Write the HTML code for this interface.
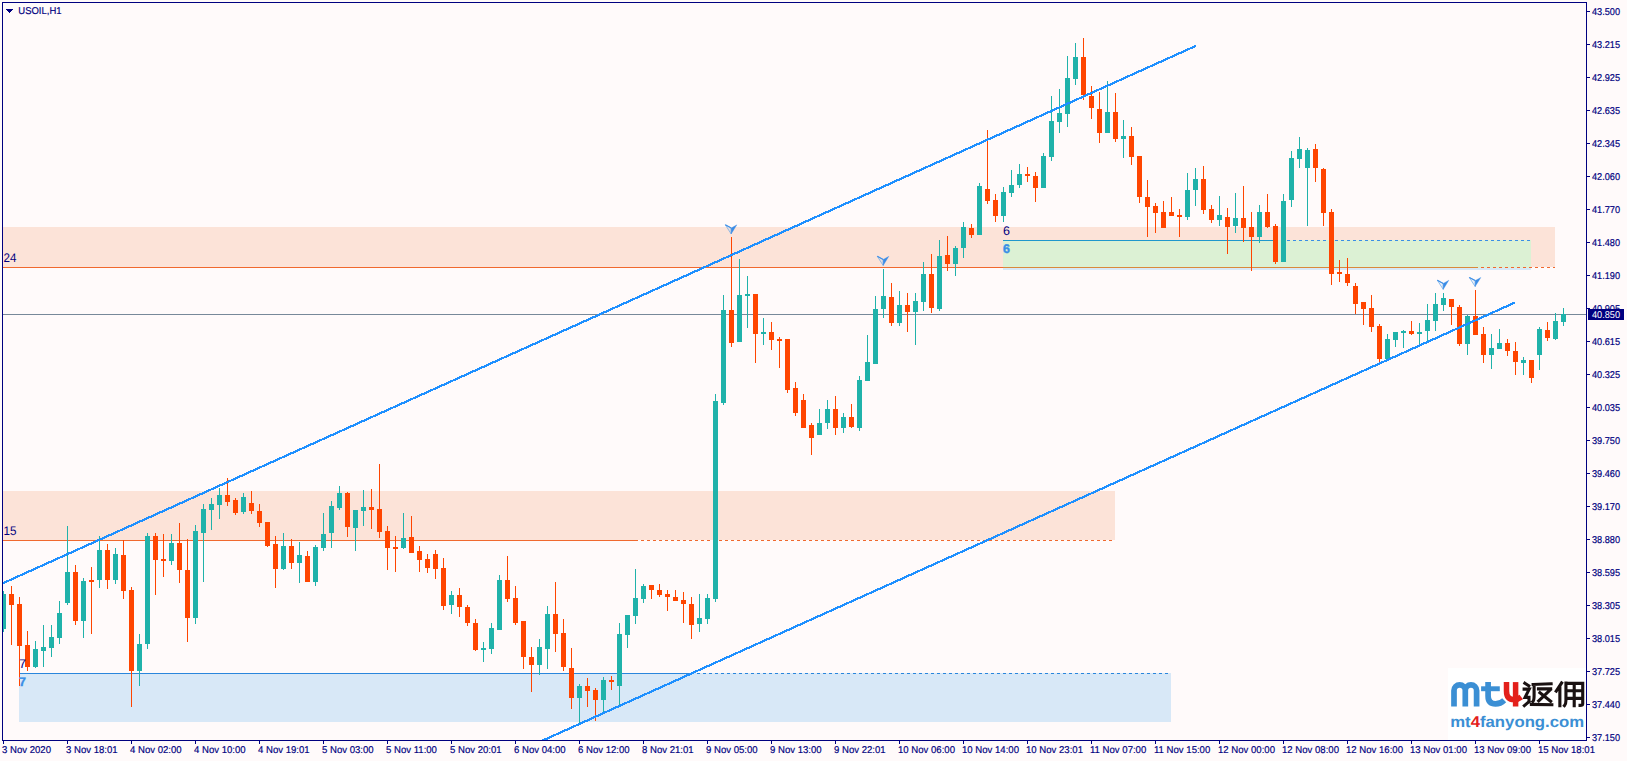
<!DOCTYPE html>
<html><head><meta charset="utf-8"><title>USOIL,H1</title>
<style>html,body{margin:0;padding:0;background:#fffafa;width:1627px;height:761px;overflow:hidden}svg{display:block}text{shape-rendering:auto;text-rendering:geometricPrecision}</style>
</head><body><svg width="1627" height="761" viewBox="0 0 1627 761" shape-rendering="crispEdges"><rect x="3" y="227" width="1552" height="40" fill="#fce3d8"/><rect x="3" y="491" width="1112" height="49" fill="#fce3d8"/><rect x="19" y="673" width="1152" height="49" fill="#d8e8f7"/><rect x="1003" y="240" width="528" height="30" fill="#dcf1d4"/><rect x="1003" y="268" width="528" height="2" fill="#d8e8f7"/><rect x="3" y="267" width="1475" height="1" fill="#f0692e"/><path d="M1481 267h3v1h-3zM1487 267h3v1h-3zM1493 267h3v1h-3zM1499 267h3v1h-3zM1505 267h3v1h-3zM1511 267h3v1h-3zM1517 267h3v1h-3zM1523 267h3v1h-3zM1529 267h3v1h-3zM1535 267h3v1h-3zM1541 267h3v1h-3zM1547 267h3v1h-3zM1553 267h2v1h-2z" fill="#f0692e"/><rect x="3" y="540" width="635" height="1" fill="#f0692e"/><path d="M641 540h3v1h-3zM647 540h3v1h-3zM653 540h3v1h-3zM659 540h3v1h-3zM665 540h3v1h-3zM671 540h3v1h-3zM677 540h3v1h-3zM683 540h3v1h-3zM689 540h3v1h-3zM695 540h3v1h-3zM701 540h3v1h-3zM707 540h3v1h-3zM713 540h3v1h-3zM719 540h3v1h-3zM725 540h3v1h-3zM731 540h3v1h-3zM737 540h3v1h-3zM743 540h3v1h-3zM749 540h3v1h-3zM755 540h3v1h-3zM761 540h3v1h-3zM767 540h3v1h-3zM773 540h3v1h-3zM779 540h3v1h-3zM785 540h3v1h-3zM791 540h3v1h-3zM797 540h3v1h-3zM803 540h3v1h-3zM809 540h3v1h-3zM815 540h3v1h-3zM821 540h3v1h-3zM827 540h3v1h-3zM833 540h3v1h-3zM839 540h3v1h-3zM845 540h3v1h-3zM851 540h3v1h-3zM857 540h3v1h-3zM863 540h3v1h-3zM869 540h3v1h-3zM875 540h3v1h-3zM881 540h3v1h-3zM887 540h3v1h-3zM893 540h3v1h-3zM899 540h3v1h-3zM905 540h3v1h-3zM911 540h3v1h-3zM917 540h3v1h-3zM923 540h3v1h-3zM929 540h3v1h-3zM935 540h3v1h-3zM941 540h3v1h-3zM947 540h3v1h-3zM953 540h3v1h-3zM959 540h3v1h-3zM965 540h3v1h-3zM971 540h3v1h-3zM977 540h3v1h-3zM983 540h3v1h-3zM989 540h3v1h-3zM995 540h3v1h-3zM1001 540h3v1h-3zM1007 540h3v1h-3zM1013 540h3v1h-3zM1019 540h3v1h-3zM1025 540h3v1h-3zM1031 540h3v1h-3zM1037 540h3v1h-3zM1043 540h3v1h-3zM1049 540h3v1h-3zM1055 540h3v1h-3zM1061 540h3v1h-3zM1067 540h3v1h-3zM1073 540h3v1h-3zM1079 540h3v1h-3zM1085 540h3v1h-3zM1091 540h3v1h-3zM1097 540h3v1h-3zM1103 540h3v1h-3zM1109 540h3v1h-3z" fill="#f0692e"/><rect x="19" y="673" width="673" height="1" fill="#2a86dc"/><path d="M697 673h3v1h-3zM703 673h3v1h-3zM709 673h3v1h-3zM715 673h3v1h-3zM721 673h3v1h-3zM727 673h3v1h-3zM733 673h3v1h-3zM739 673h3v1h-3zM745 673h3v1h-3zM751 673h3v1h-3zM757 673h3v1h-3zM763 673h3v1h-3zM769 673h3v1h-3zM775 673h3v1h-3zM781 673h3v1h-3zM787 673h3v1h-3zM793 673h3v1h-3zM799 673h3v1h-3zM805 673h3v1h-3zM811 673h3v1h-3zM817 673h3v1h-3zM823 673h3v1h-3zM829 673h3v1h-3zM835 673h3v1h-3zM841 673h3v1h-3zM847 673h3v1h-3zM853 673h3v1h-3zM859 673h3v1h-3zM865 673h3v1h-3zM871 673h3v1h-3zM877 673h3v1h-3zM883 673h3v1h-3zM889 673h3v1h-3zM895 673h3v1h-3zM901 673h3v1h-3zM907 673h3v1h-3zM913 673h3v1h-3zM919 673h3v1h-3zM925 673h3v1h-3zM931 673h3v1h-3zM937 673h3v1h-3zM943 673h3v1h-3zM949 673h3v1h-3zM955 673h3v1h-3zM961 673h3v1h-3zM967 673h3v1h-3zM973 673h3v1h-3zM979 673h3v1h-3zM985 673h3v1h-3zM991 673h3v1h-3zM997 673h3v1h-3zM1003 673h3v1h-3zM1009 673h3v1h-3zM1015 673h3v1h-3zM1021 673h3v1h-3zM1027 673h3v1h-3zM1033 673h3v1h-3zM1039 673h3v1h-3zM1045 673h3v1h-3zM1051 673h3v1h-3zM1057 673h3v1h-3zM1063 673h3v1h-3zM1069 673h3v1h-3zM1075 673h3v1h-3zM1081 673h3v1h-3zM1087 673h3v1h-3zM1093 673h3v1h-3zM1099 673h3v1h-3zM1105 673h3v1h-3zM1111 673h3v1h-3zM1117 673h3v1h-3zM1123 673h3v1h-3zM1129 673h3v1h-3zM1135 673h3v1h-3zM1141 673h3v1h-3zM1147 673h3v1h-3zM1153 673h3v1h-3zM1159 673h3v1h-3zM1165 673h3v1h-3z" fill="#2a86dc"/><rect x="1003" y="240" width="274" height="1" fill="#2098cc"/><path d="M1287 240h3v1h-3zM1293 240h3v1h-3zM1299 240h3v1h-3zM1305 240h3v1h-3zM1311 240h3v1h-3zM1317 240h3v1h-3zM1323 240h3v1h-3zM1329 240h3v1h-3zM1335 240h3v1h-3zM1341 240h3v1h-3zM1347 240h3v1h-3zM1353 240h3v1h-3zM1359 240h3v1h-3zM1365 240h3v1h-3zM1371 240h3v1h-3zM1377 240h3v1h-3zM1383 240h3v1h-3zM1389 240h3v1h-3zM1395 240h3v1h-3zM1401 240h3v1h-3zM1407 240h3v1h-3zM1413 240h3v1h-3zM1419 240h3v1h-3zM1425 240h3v1h-3zM1431 240h3v1h-3zM1437 240h3v1h-3zM1443 240h3v1h-3zM1449 240h3v1h-3zM1455 240h3v1h-3zM1461 240h3v1h-3zM1467 240h3v1h-3zM1473 240h3v1h-3zM1479 240h3v1h-3zM1485 240h3v1h-3zM1491 240h3v1h-3zM1497 240h3v1h-3zM1503 240h3v1h-3zM1509 240h3v1h-3zM1515 240h3v1h-3zM1521 240h3v1h-3zM1527 240h3v1h-3z" fill="#3a8ee6"/><rect x="1003" y="267" width="475" height="1" fill="#d98a3c"/><rect x="3" y="314" width="1583" height="1" fill="#778899"/><defs><clipPath id="cz"><rect x="3" y="3" width="1583" height="737"/></clipPath></defs><g clip-path="url(#cz)"><path d="M3 591h1v41h-1zM35 641h1v27h-1zM43 625h1v42h-1zM51 625h1v32h-1zM59 601h1v43h-1zM67 526h1v79h-1zM83 578h1v60h-1zM99 536h1v52h-1zM115 548h1v36h-1zM139 634h1v52h-1zM147 533h1v116h-1zM171 534h1v31h-1zM195 525h1v99h-1zM203 504h1v78h-1zM211 498h1v32h-1zM219 488h1v31h-1zM243 493h1v21h-1zM283 533h1v37h-1zM299 542h1v41h-1zM315 545h1v41h-1zM323 513h1v38h-1zM331 501h1v47h-1zM339 486h1v24h-1zM355 510h1v41h-1zM363 490h1v36h-1zM403 513h1v36h-1zM451 591h1v23h-1zM483 642h1v20h-1zM491 623h1v31h-1zM499 575h1v55h-1zM539 639h1v36h-1zM547 606h1v63h-1zM579 684h1v39h-1zM603 677h1v35h-1zM619 623h1v83h-1zM627 615h1v33h-1zM635 569h1v55h-1zM643 584h1v19h-1zM699 594h1v38h-1zM707 594h1v30h-1zM715 394h1v208h-1zM723 295h1v110h-1zM739 259h1v83h-1zM747 276h1v52h-1zM763 318h1v27h-1zM819 409h1v26h-1zM827 400h1v29h-1zM843 413h1v20h-1zM859 376h1v55h-1zM867 335h1v46h-1zM875 296h1v68h-1zM883 269h1v49h-1zM899 291h1v35h-1zM915 293h1v52h-1zM923 262h1v49h-1zM939 240h1v71h-1zM955 246h1v30h-1zM963 222h1v36h-1zM979 183h1v52h-1zM1003 187h1v35h-1zM1011 170h1v27h-1zM1019 164h1v24h-1zM1043 153h1v35h-1zM1051 96h1v65h-1zM1059 89h1v44h-1zM1067 56h1v71h-1zM1075 43h1v42h-1zM1107 81h1v52h-1zM1123 120h1v38h-1zM1187 173h1v47h-1zM1195 168h1v38h-1zM1219 196h1v30h-1zM1235 193h1v40h-1zM1259 205h1v38h-1zM1283 194h1v68h-1zM1291 151h1v56h-1zM1299 137h1v31h-1zM1307 148h1v78h-1zM1387 334h1v26h-1zM1395 332h1v15h-1zM1403 330h1v18h-1zM1419 323h1v22h-1zM1427 304h1v37h-1zM1435 293h1v38h-1zM1443 293h1v18h-1zM1467 315h1v40h-1zM1491 334h1v35h-1zM1499 329h1v20h-1zM1523 357h1v18h-1zM1539 327h1v43h-1zM1555 313h1v27h-1zM1563 308h1v18h-1zM1 594h5v35h-5zM33 649h5v18h-5zM41 647h5v4h-5zM49 637h5v11h-5zM57 613h5v25h-5zM65 572h5v31h-5zM81 581h5v40h-5zM97 550h5v30h-5zM113 554h5v26h-5zM137 644h5v27h-5zM145 536h5v108h-5zM169 543h5v18h-5zM193 531h5v87h-5zM201 509h5v24h-5zM209 504h5v6h-5zM217 495h5v10h-5zM241 497h5v15h-5zM281 546h5v23h-5zM297 555h5v8h-5zM313 547h5v35h-5zM321 534h5v14h-5zM329 506h5v27h-5zM337 493h5v15h-5zM353 510h5v18h-5zM361 507h5v4h-5zM401 538h5v10h-5zM449 595h5v10h-5zM481 648h5v2h-5zM489 628h5v21h-5zM497 580h5v50h-5zM537 647h5v18h-5zM545 614h5v35h-5zM577 686h5v12h-5zM601 680h5v20h-5zM617 634h5v52h-5zM625 615h5v20h-5zM633 598h5v18h-5zM641 586h5v13h-5zM697 618h5v6h-5zM705 598h5v21h-5zM713 401h5v198h-5zM721 310h5v93h-5zM737 295h5v47h-5zM745 294h5v2h-5zM761 332h5v2h-5zM817 423h5v12h-5zM825 409h5v14h-5zM841 417h5v11h-5zM857 380h5v48h-5zM865 362h5v19h-5zM873 309h5v55h-5zM881 296h5v13h-5zM897 305h5v18h-5zM913 301h5v11h-5zM921 274h5v28h-5zM937 256h5v53h-5zM953 248h5v16h-5zM961 227h5v21h-5zM977 186h5v49h-5zM1001 192h5v24h-5zM1009 185h5v8h-5zM1017 174h5v11h-5zM1041 156h5v32h-5zM1049 121h5v36h-5zM1057 113h5v9h-5zM1065 78h5v36h-5zM1073 57h5v22h-5zM1105 112h5v21h-5zM1121 136h5v3h-5zM1185 190h5v27h-5zM1193 179h5v11h-5zM1217 215h5v5h-5zM1233 218h5v8h-5zM1257 212h5v25h-5zM1281 201h5v61h-5zM1289 158h5v42h-5zM1297 149h5v10h-5zM1305 150h5v18h-5zM1385 339h5v20h-5zM1393 332h5v8h-5zM1401 331h5v2h-5zM1417 332h5v2h-5zM1425 320h5v11h-5zM1433 304h5v17h-5zM1441 298h5v7h-5zM1465 316h5v28h-5zM1489 348h5v7h-5zM1497 343h5v6h-5zM1521 360h5v3h-5zM1537 329h5v26h-5zM1553 321h5v18h-5zM1561 314h5v8h-5z" fill="#20b2aa"/><path d="M11 586h1v59h-1zM19 597h1v89h-1zM27 631h1v40h-1zM75 565h1v60h-1zM91 567h1v67h-1zM107 544h1v45h-1zM123 540h1v59h-1zM131 587h1v120h-1zM155 533h1v62h-1zM163 534h1v43h-1zM179 523h1v60h-1zM187 539h1v103h-1zM227 478h1v28h-1zM235 498h1v17h-1zM251 491h1v23h-1zM259 504h1v23h-1zM267 522h1v25h-1zM275 536h1v52h-1zM291 539h1v30h-1zM307 551h1v31h-1zM347 492h1v45h-1zM371 489h1v40h-1zM379 464h1v74h-1zM387 526h1v44h-1zM395 536h1v36h-1zM411 516h1v37h-1zM419 546h1v26h-1zM427 554h1v19h-1zM435 550h1v29h-1zM443 558h1v52h-1zM459 588h1v29h-1zM467 605h1v21h-1zM475 619h1v32h-1zM507 556h1v46h-1zM515 586h1v39h-1zM523 621h1v48h-1zM531 647h1v45h-1zM555 582h1v70h-1zM563 619h1v52h-1zM571 648h1v61h-1zM587 678h1v29h-1zM595 688h1v33h-1zM611 676h1v14h-1zM651 585h1v14h-1zM659 584h1v13h-1zM667 590h1v21h-1zM675 590h1v11h-1zM683 592h1v31h-1zM691 597h1v42h-1zM731 237h1v110h-1zM755 294h1v69h-1zM771 322h1v28h-1zM779 337h1v31h-1zM787 339h1v54h-1zM795 382h1v34h-1zM803 394h1v34h-1zM811 423h1v32h-1zM835 396h1v39h-1zM851 404h1v24h-1zM891 283h1v43h-1zM907 293h1v39h-1zM931 254h1v59h-1zM947 236h1v35h-1zM971 224h1v14h-1zM987 130h1v74h-1zM995 194h1v28h-1zM1027 167h1v15h-1zM1035 172h1v30h-1zM1083 38h1v62h-1zM1091 86h1v33h-1zM1099 92h1v51h-1zM1115 93h1v49h-1zM1131 127h1v38h-1zM1139 156h1v47h-1zM1147 180h1v57h-1zM1155 203h1v30h-1zM1163 201h1v27h-1zM1171 197h1v19h-1zM1179 209h1v28h-1zM1203 166h1v48h-1zM1211 205h1v18h-1zM1227 208h1v46h-1zM1243 186h1v56h-1zM1251 212h1v59h-1zM1267 194h1v34h-1zM1275 224h1v40h-1zM1315 144h1v38h-1zM1323 168h1v58h-1zM1331 209h1v76h-1zM1339 260h1v22h-1zM1347 258h1v28h-1zM1355 283h1v31h-1zM1363 302h1v23h-1zM1371 295h1v37h-1zM1379 324h1v38h-1zM1411 321h1v14h-1zM1451 299h1v26h-1zM1459 305h1v41h-1zM1475 290h1v45h-1zM1483 327h1v36h-1zM1507 339h1v17h-1zM1515 342h1v33h-1zM1531 360h1v23h-1zM1547 322h1v19h-1zM9 594h5v11h-5zM17 604h5v42h-5zM25 645h5v22h-5zM73 572h5v49h-5zM89 580h5v2h-5zM105 550h5v30h-5zM121 555h5v36h-5zM129 590h5v81h-5zM153 536h5v24h-5zM161 559h5v2h-5zM177 543h5v27h-5zM185 570h5v48h-5zM225 495h5v7h-5zM233 500h5v13h-5zM249 503h5v8h-5zM257 511h5v12h-5zM265 522h5v24h-5zM273 544h5v25h-5zM289 546h5v17h-5zM305 556h5v26h-5zM345 493h5v34h-5zM369 507h5v3h-5zM377 509h5v23h-5zM385 531h5v17h-5zM393 547h5v2h-5zM409 537h5v16h-5zM417 551h5v9h-5zM425 559h5v9h-5zM433 554h5v15h-5zM441 568h5v38h-5zM457 595h5v12h-5zM465 607h5v16h-5zM473 623h5v27h-5zM505 580h5v19h-5zM513 598h5v25h-5zM521 621h5v36h-5zM529 657h5v8h-5zM553 614h5v20h-5zM561 633h5v34h-5zM569 668h5v30h-5zM585 686h5v5h-5zM593 690h5v10h-5zM609 680h5v2h-5zM649 585h5v5h-5zM657 590h5v5h-5zM665 594h5v3h-5zM673 597h5v4h-5zM681 600h5v4h-5zM689 604h5v21h-5zM729 310h5v33h-5zM753 294h5v40h-5zM769 332h5v8h-5zM777 339h5v2h-5zM785 339h5v51h-5zM793 388h5v25h-5zM801 400h5v28h-5zM809 425h5v13h-5zM833 409h5v19h-5zM849 417h5v10h-5zM889 297h5v26h-5zM905 305h5v7h-5zM929 274h5v34h-5zM945 255h5v9h-5zM969 228h5v7h-5zM985 189h5v12h-5zM993 200h5v16h-5zM1025 174h5v2h-5zM1033 176h5v12h-5zM1081 57h5v38h-5zM1089 96h5v12h-5zM1097 109h5v24h-5zM1113 112h5v27h-5zM1129 136h5v21h-5zM1137 156h5v41h-5zM1145 197h5v10h-5zM1153 206h5v7h-5zM1161 212h5v16h-5zM1169 212h5v4h-5zM1177 215h5v2h-5zM1201 179h5v31h-5zM1209 209h5v11h-5zM1225 217h5v10h-5zM1241 218h5v10h-5zM1249 227h5v10h-5zM1265 212h5v15h-5zM1273 226h5v36h-5zM1313 149h5v19h-5zM1321 169h5v44h-5zM1329 212h5v62h-5zM1337 272h5v2h-5zM1345 274h5v9h-5zM1353 286h5v18h-5zM1361 302h5v7h-5zM1369 308h5v19h-5zM1377 326h5v33h-5zM1409 331h5v3h-5zM1449 299h5v8h-5zM1457 307h5v37h-5zM1473 316h5v19h-5zM1481 334h5v21h-5zM1505 343h5v8h-5zM1513 351h5v11h-5zM1529 360h5v18h-5zM1545 330h5v8h-5z" fill="#ff4500"/></g><defs><clipPath id="cc"><rect x="3" y="3" width="1583" height="737"/></clipPath></defs><g clip-path="url(#cc)"><line x1="3" y1="583.2" x2="1196" y2="45.8" stroke="#1e90ff" stroke-width="2.2"/><line x1="542" y1="740.8" x2="1515" y2="302.5" stroke="#1e90ff" stroke-width="2.2"/></g><g shape-rendering="auto"><path d="M725.3000000000001 224.79999999999998 L731.2 228.0 L731.2 234.0 Z" fill="#a8cdf2" fill-opacity="0.2" stroke="#62a6ea" stroke-width="0.7"/><path d="M725.3000000000001 224.79999999999998 L731.2 228.0" stroke="#3f8fe6" stroke-width="1.1"/><path d="M736.9000000000001 224.79999999999998 L731.2 228.0 L731.2 234.0 Z" fill="#3a8ce6" stroke="#3a8ce6" stroke-width="0.3"/></g><g shape-rendering="auto"><path d="M877.3000000000001 256.3 L883.2 259.5 L883.2 265.5 Z" fill="#a8cdf2" fill-opacity="0.2" stroke="#62a6ea" stroke-width="0.7"/><path d="M877.3000000000001 256.3 L883.2 259.5" stroke="#3f8fe6" stroke-width="1.1"/><path d="M888.9000000000001 256.3 L883.2 259.5 L883.2 265.5 Z" fill="#3a8ce6" stroke="#3a8ce6" stroke-width="0.3"/></g><g shape-rendering="auto"><path d="M1437.3 280.20000000000005 L1443.2 283.40000000000003 L1443.2 289.40000000000003 Z" fill="#a8cdf2" fill-opacity="0.2" stroke="#62a6ea" stroke-width="0.7"/><path d="M1437.3 280.20000000000005 L1443.2 283.40000000000003" stroke="#3f8fe6" stroke-width="1.1"/><path d="M1448.9 280.20000000000005 L1443.2 283.40000000000003 L1443.2 289.40000000000003 Z" fill="#3a8ce6" stroke="#3a8ce6" stroke-width="0.3"/></g><g shape-rendering="auto"><path d="M1469.3 277.40000000000003 L1475.2 280.6 L1475.2 286.6 Z" fill="#a8cdf2" fill-opacity="0.2" stroke="#62a6ea" stroke-width="0.7"/><path d="M1469.3 277.40000000000003 L1475.2 280.6" stroke="#3f8fe6" stroke-width="1.1"/><path d="M1480.9 277.40000000000003 L1475.2 280.6 L1475.2 286.6 Z" fill="#3a8ce6" stroke="#3a8ce6" stroke-width="0.3"/></g><text transform="translate(3.5 262) scale(0.93 1)" font-family='"Liberation Sans", sans-serif' font-size="12.5" fill="#000080" font-weight="normal" text-anchor="start">24</text><text transform="translate(3.5 535) scale(0.93 1)" font-family='"Liberation Sans", sans-serif' font-size="12.5" fill="#000080" font-weight="normal" text-anchor="start">15</text><text x="19" y="668" font-family='"Liberation Sans", sans-serif' font-size="12.5" fill="#000080" font-weight="normal" text-anchor="start">7</text><text x="19" y="685.5" font-family='"Liberation Sans", sans-serif' font-size="12.5" fill="#3a8ee6" font-weight="bold" text-anchor="start" stroke="#3a8ee6" stroke-width="0.4">7</text><text x="1003" y="235" font-family='"Liberation Sans", sans-serif' font-size="12.5" fill="#000080" font-weight="normal" text-anchor="start">6</text><text x="1003" y="252.8" font-family='"Liberation Sans", sans-serif' font-size="12.5" fill="#3a8ee6" font-weight="bold" text-anchor="start" stroke="#3a8ee6" stroke-width="0.4">6</text><path d="M6 9h7.5l-3.75 4z" fill="#000080"/><text transform="translate(18.3 14) scale(0.96 1)" font-family='"Liberation Sans", sans-serif' font-size="9.9" fill="#000080" font-weight="normal" text-anchor="start" stroke="#000080" stroke-width="0.18">USOIL,H1</text><rect x="1448" y="668" width="138" height="72" fill="#ffffff"/><g fill="none" stroke="#3b8fd4" stroke-width="5.7" shape-rendering="auto"><path d="M1454 706.5V690.5A5.65 5.65 0 0 1 1465.3 690.5V706.5M1465.3 690.5A5.65 5.65 0 0 1 1476.6 690.5V706.5"/><path d="M1488.1 682.1V696Q1488.1 703.9 1495.5 703.9Q1500.5 703.9 1504.2 700.2"/></g><rect x="1481.1" y="686.3" width="18.7" height="4.9" fill="#3b8fd4" shape-rendering="auto"/><g fill="none" stroke="#e3201b" stroke-width="5.5" shape-rendering="auto"><path d="M1506.5 682.1V691Q1506.5 699.6 1514 699.6Q1518 699.6 1521.2 697"/><path d="M1515.6 682.1V706.5"/></g><g transform="translate(1520 675) scale(0.04862)" fill="none" stroke="#1a1212" stroke-width="64" stroke-linecap="square" shape-rendering="auto"><path d="M100 170L180 222M85 290L190 290L105 460L185 460L185 555M90 630L185 548M235 605L655 612"/><path d="M270 195L640 180M290 195L290 420Q290 520 265 545M380 285L630 285M625 300L385 530M410 365L630 540"/><path d="M855 165L745 330M820 270L820 630M945 165L945 520Q945 600 915 630M945 172L1290 172L1290 590Q1290 625 1235 625M1115 172L1115 630M945 325L1290 325M945 480L1290 480"/></g><text transform="translate(1450.2 727) scale(1.08 1)" font-family='"Liberation Sans", sans-serif' font-size="15.5" font-weight="bold" fill="#3b8fd4">mt<tspan fill="#e3201b">4</tspan>fanyong.com</text><path d="M2 2h1585v1h-1585z M2 2h1v739h-1z M1586 2h1v739h-1z M2 740h1585v1h-1585z" fill="#000080"/><text transform="translate(1592 15) scale(0.93 1)" font-family='"Liberation Sans", sans-serif' font-size="9.9" fill="#000080" font-weight="normal" text-anchor="start" stroke="#000080" stroke-width="0.18">43.500</text><text transform="translate(1592 48) scale(0.93 1)" font-family='"Liberation Sans", sans-serif' font-size="9.9" fill="#000080" font-weight="normal" text-anchor="start" stroke="#000080" stroke-width="0.18">43.215</text><text transform="translate(1592 81) scale(0.93 1)" font-family='"Liberation Sans", sans-serif' font-size="9.9" fill="#000080" font-weight="normal" text-anchor="start" stroke="#000080" stroke-width="0.18">42.925</text><text transform="translate(1592 114) scale(0.93 1)" font-family='"Liberation Sans", sans-serif' font-size="9.9" fill="#000080" font-weight="normal" text-anchor="start" stroke="#000080" stroke-width="0.18">42.635</text><text transform="translate(1592 147) scale(0.93 1)" font-family='"Liberation Sans", sans-serif' font-size="9.9" fill="#000080" font-weight="normal" text-anchor="start" stroke="#000080" stroke-width="0.18">42.345</text><text transform="translate(1592 180) scale(0.93 1)" font-family='"Liberation Sans", sans-serif' font-size="9.9" fill="#000080" font-weight="normal" text-anchor="start" stroke="#000080" stroke-width="0.18">42.060</text><text transform="translate(1592 213) scale(0.93 1)" font-family='"Liberation Sans", sans-serif' font-size="9.9" fill="#000080" font-weight="normal" text-anchor="start" stroke="#000080" stroke-width="0.18">41.770</text><text transform="translate(1592 246) scale(0.93 1)" font-family='"Liberation Sans", sans-serif' font-size="9.9" fill="#000080" font-weight="normal" text-anchor="start" stroke="#000080" stroke-width="0.18">41.480</text><text transform="translate(1592 279) scale(0.93 1)" font-family='"Liberation Sans", sans-serif' font-size="9.9" fill="#000080" font-weight="normal" text-anchor="start" stroke="#000080" stroke-width="0.18">41.190</text><text transform="translate(1592 312) scale(0.93 1)" font-family='"Liberation Sans", sans-serif' font-size="9.9" fill="#000080" font-weight="normal" text-anchor="start" stroke="#000080" stroke-width="0.18">40.905</text><text transform="translate(1592 345) scale(0.93 1)" font-family='"Liberation Sans", sans-serif' font-size="9.9" fill="#000080" font-weight="normal" text-anchor="start" stroke="#000080" stroke-width="0.18">40.615</text><text transform="translate(1592 378) scale(0.93 1)" font-family='"Liberation Sans", sans-serif' font-size="9.9" fill="#000080" font-weight="normal" text-anchor="start" stroke="#000080" stroke-width="0.18">40.325</text><text transform="translate(1592 411) scale(0.93 1)" font-family='"Liberation Sans", sans-serif' font-size="9.9" fill="#000080" font-weight="normal" text-anchor="start" stroke="#000080" stroke-width="0.18">40.035</text><text transform="translate(1592 444) scale(0.93 1)" font-family='"Liberation Sans", sans-serif' font-size="9.9" fill="#000080" font-weight="normal" text-anchor="start" stroke="#000080" stroke-width="0.18">39.750</text><text transform="translate(1592 477) scale(0.93 1)" font-family='"Liberation Sans", sans-serif' font-size="9.9" fill="#000080" font-weight="normal" text-anchor="start" stroke="#000080" stroke-width="0.18">39.460</text><text transform="translate(1592 510) scale(0.93 1)" font-family='"Liberation Sans", sans-serif' font-size="9.9" fill="#000080" font-weight="normal" text-anchor="start" stroke="#000080" stroke-width="0.18">39.170</text><text transform="translate(1592 543) scale(0.93 1)" font-family='"Liberation Sans", sans-serif' font-size="9.9" fill="#000080" font-weight="normal" text-anchor="start" stroke="#000080" stroke-width="0.18">38.880</text><text transform="translate(1592 576) scale(0.93 1)" font-family='"Liberation Sans", sans-serif' font-size="9.9" fill="#000080" font-weight="normal" text-anchor="start" stroke="#000080" stroke-width="0.18">38.595</text><text transform="translate(1592 609) scale(0.93 1)" font-family='"Liberation Sans", sans-serif' font-size="9.9" fill="#000080" font-weight="normal" text-anchor="start" stroke="#000080" stroke-width="0.18">38.305</text><text transform="translate(1592 642) scale(0.93 1)" font-family='"Liberation Sans", sans-serif' font-size="9.9" fill="#000080" font-weight="normal" text-anchor="start" stroke="#000080" stroke-width="0.18">38.015</text><text transform="translate(1592 675) scale(0.93 1)" font-family='"Liberation Sans", sans-serif' font-size="9.9" fill="#000080" font-weight="normal" text-anchor="start" stroke="#000080" stroke-width="0.18">37.725</text><text transform="translate(1592 708) scale(0.93 1)" font-family='"Liberation Sans", sans-serif' font-size="9.9" fill="#000080" font-weight="normal" text-anchor="start" stroke="#000080" stroke-width="0.18">37.440</text><text transform="translate(1592 741) scale(0.93 1)" font-family='"Liberation Sans", sans-serif' font-size="9.9" fill="#000080" font-weight="normal" text-anchor="start" stroke="#000080" stroke-width="0.18">37.150</text><path d="M1587 11h3v1h-3zM1587 44h3v1h-3zM1587 77h3v1h-3zM1587 110h3v1h-3zM1587 143h3v1h-3zM1587 176h3v1h-3zM1587 209h3v1h-3zM1587 242h3v1h-3zM1587 275h3v1h-3zM1587 308h3v1h-3zM1587 341h3v1h-3zM1587 374h3v1h-3zM1587 407h3v1h-3zM1587 440h3v1h-3zM1587 473h3v1h-3zM1587 506h3v1h-3zM1587 539h3v1h-3zM1587 572h3v1h-3zM1587 605h3v1h-3zM1587 638h3v1h-3zM1587 671h3v1h-3zM1587 704h3v1h-3zM1587 737h3v1h-3z" fill="#000080"/><rect x="1588" y="309" width="36" height="11" fill="#000080"/><text transform="translate(1592 318) scale(0.93 1)" font-family='"Liberation Sans", sans-serif' font-size="9.9" fill="#ffffff" font-weight="normal" text-anchor="start">40.850</text><text transform="translate(2 753) scale(0.97 1)" font-family='"Liberation Sans", sans-serif' font-size="9.9" fill="#000080" font-weight="normal" text-anchor="start" stroke="#000080" stroke-width="0.18">3 Nov 2020</text><text transform="translate(66 753) scale(0.97 1)" font-family='"Liberation Sans", sans-serif' font-size="9.9" fill="#000080" font-weight="normal" text-anchor="start" stroke="#000080" stroke-width="0.18">3 Nov 18:01</text><text transform="translate(130 753) scale(0.97 1)" font-family='"Liberation Sans", sans-serif' font-size="9.9" fill="#000080" font-weight="normal" text-anchor="start" stroke="#000080" stroke-width="0.18">4 Nov 02:00</text><text transform="translate(194 753) scale(0.97 1)" font-family='"Liberation Sans", sans-serif' font-size="9.9" fill="#000080" font-weight="normal" text-anchor="start" stroke="#000080" stroke-width="0.18">4 Nov 10:00</text><text transform="translate(258 753) scale(0.97 1)" font-family='"Liberation Sans", sans-serif' font-size="9.9" fill="#000080" font-weight="normal" text-anchor="start" stroke="#000080" stroke-width="0.18">4 Nov 19:01</text><text transform="translate(322 753) scale(0.97 1)" font-family='"Liberation Sans", sans-serif' font-size="9.9" fill="#000080" font-weight="normal" text-anchor="start" stroke="#000080" stroke-width="0.18">5 Nov 03:00</text><text transform="translate(386 753) scale(0.97 1)" font-family='"Liberation Sans", sans-serif' font-size="9.9" fill="#000080" font-weight="normal" text-anchor="start" stroke="#000080" stroke-width="0.18">5 Nov 11:00</text><text transform="translate(450 753) scale(0.97 1)" font-family='"Liberation Sans", sans-serif' font-size="9.9" fill="#000080" font-weight="normal" text-anchor="start" stroke="#000080" stroke-width="0.18">5 Nov 20:01</text><text transform="translate(514 753) scale(0.97 1)" font-family='"Liberation Sans", sans-serif' font-size="9.9" fill="#000080" font-weight="normal" text-anchor="start" stroke="#000080" stroke-width="0.18">6 Nov 04:00</text><text transform="translate(578 753) scale(0.97 1)" font-family='"Liberation Sans", sans-serif' font-size="9.9" fill="#000080" font-weight="normal" text-anchor="start" stroke="#000080" stroke-width="0.18">6 Nov 12:00</text><text transform="translate(642 753) scale(0.97 1)" font-family='"Liberation Sans", sans-serif' font-size="9.9" fill="#000080" font-weight="normal" text-anchor="start" stroke="#000080" stroke-width="0.18">8 Nov 21:01</text><text transform="translate(706 753) scale(0.97 1)" font-family='"Liberation Sans", sans-serif' font-size="9.9" fill="#000080" font-weight="normal" text-anchor="start" stroke="#000080" stroke-width="0.18">9 Nov 05:00</text><text transform="translate(770 753) scale(0.97 1)" font-family='"Liberation Sans", sans-serif' font-size="9.9" fill="#000080" font-weight="normal" text-anchor="start" stroke="#000080" stroke-width="0.18">9 Nov 13:00</text><text transform="translate(834 753) scale(0.97 1)" font-family='"Liberation Sans", sans-serif' font-size="9.9" fill="#000080" font-weight="normal" text-anchor="start" stroke="#000080" stroke-width="0.18">9 Nov 22:01</text><text transform="translate(898 753) scale(0.97 1)" font-family='"Liberation Sans", sans-serif' font-size="9.9" fill="#000080" font-weight="normal" text-anchor="start" stroke="#000080" stroke-width="0.18">10 Nov 06:00</text><text transform="translate(962 753) scale(0.97 1)" font-family='"Liberation Sans", sans-serif' font-size="9.9" fill="#000080" font-weight="normal" text-anchor="start" stroke="#000080" stroke-width="0.18">10 Nov 14:00</text><text transform="translate(1026 753) scale(0.97 1)" font-family='"Liberation Sans", sans-serif' font-size="9.9" fill="#000080" font-weight="normal" text-anchor="start" stroke="#000080" stroke-width="0.18">10 Nov 23:01</text><text transform="translate(1090 753) scale(0.97 1)" font-family='"Liberation Sans", sans-serif' font-size="9.9" fill="#000080" font-weight="normal" text-anchor="start" stroke="#000080" stroke-width="0.18">11 Nov 07:00</text><text transform="translate(1154 753) scale(0.97 1)" font-family='"Liberation Sans", sans-serif' font-size="9.9" fill="#000080" font-weight="normal" text-anchor="start" stroke="#000080" stroke-width="0.18">11 Nov 15:00</text><text transform="translate(1218 753) scale(0.97 1)" font-family='"Liberation Sans", sans-serif' font-size="9.9" fill="#000080" font-weight="normal" text-anchor="start" stroke="#000080" stroke-width="0.18">12 Nov 00:00</text><text transform="translate(1282 753) scale(0.97 1)" font-family='"Liberation Sans", sans-serif' font-size="9.9" fill="#000080" font-weight="normal" text-anchor="start" stroke="#000080" stroke-width="0.18">12 Nov 08:00</text><text transform="translate(1346 753) scale(0.97 1)" font-family='"Liberation Sans", sans-serif' font-size="9.9" fill="#000080" font-weight="normal" text-anchor="start" stroke="#000080" stroke-width="0.18">12 Nov 16:00</text><text transform="translate(1410 753) scale(0.97 1)" font-family='"Liberation Sans", sans-serif' font-size="9.9" fill="#000080" font-weight="normal" text-anchor="start" stroke="#000080" stroke-width="0.18">13 Nov 01:00</text><text transform="translate(1474 753) scale(0.97 1)" font-family='"Liberation Sans", sans-serif' font-size="9.9" fill="#000080" font-weight="normal" text-anchor="start" stroke="#000080" stroke-width="0.18">13 Nov 09:00</text><text transform="translate(1538 753) scale(0.97 1)" font-family='"Liberation Sans", sans-serif' font-size="9.9" fill="#000080" font-weight="normal" text-anchor="start" stroke="#000080" stroke-width="0.18">15 Nov 18:01</text><path d="M3 741h1v3h-1zM67 741h1v3h-1zM131 741h1v3h-1zM195 741h1v3h-1zM259 741h1v3h-1zM323 741h1v3h-1zM387 741h1v3h-1zM451 741h1v3h-1zM515 741h1v3h-1zM579 741h1v3h-1zM643 741h1v3h-1zM707 741h1v3h-1zM771 741h1v3h-1zM835 741h1v3h-1zM899 741h1v3h-1zM963 741h1v3h-1zM1027 741h1v3h-1zM1091 741h1v3h-1zM1155 741h1v3h-1zM1219 741h1v3h-1zM1283 741h1v3h-1zM1347 741h1v3h-1zM1411 741h1v3h-1zM1475 741h1v3h-1zM1539 741h1v3h-1z" fill="#000080"/></svg></body></html>
